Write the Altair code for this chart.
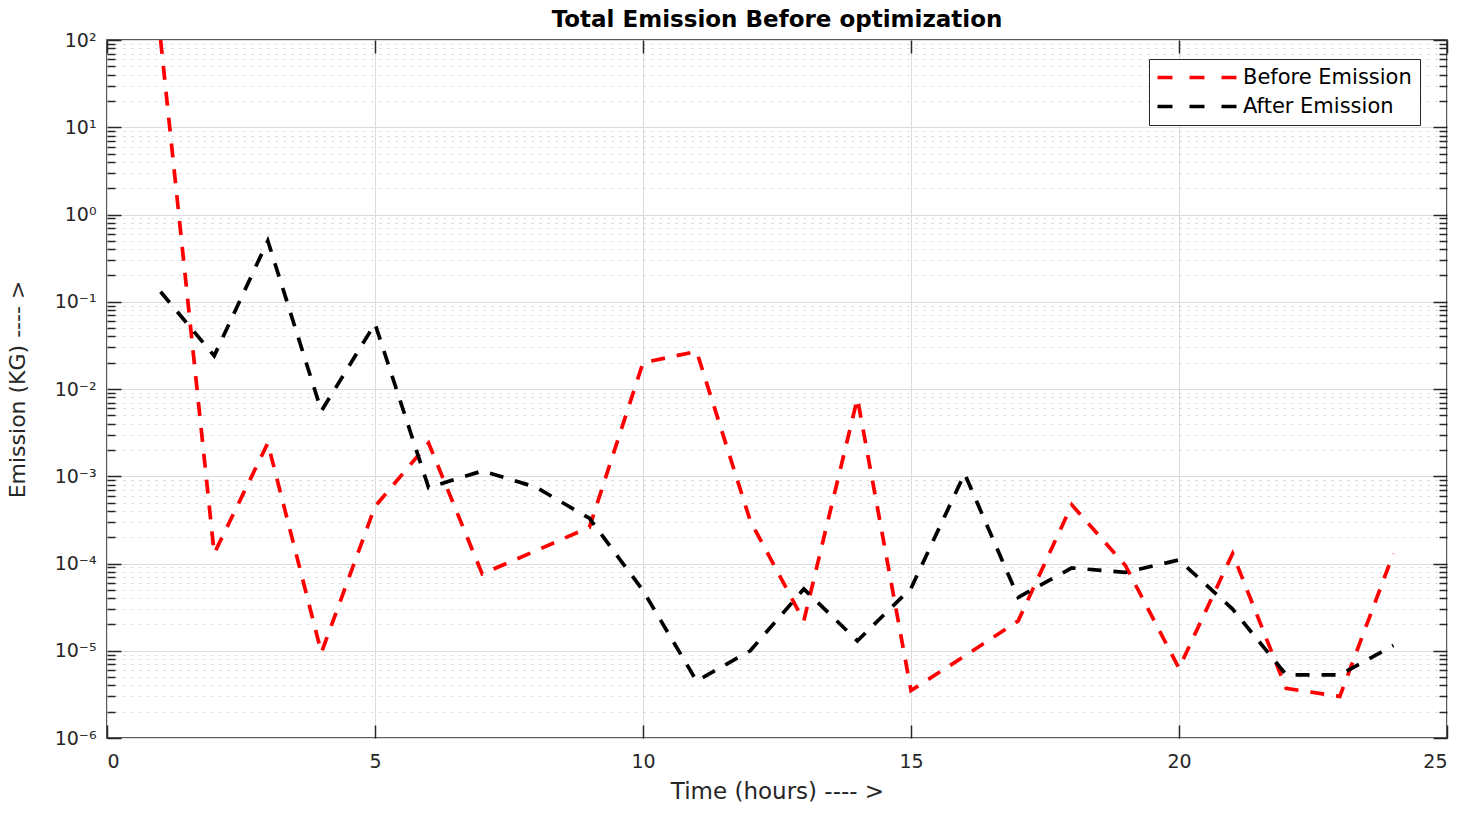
import altair as alt
import pandas as pd

# ---- data ----
hours = list(range(1, 25))
before_emission = [100, 1.3e-4, 2.4e-3, 9.5e-6, 4.5e-4, 2.4e-3, 7.6e-5, 1.4e-4,
                   2.6e-4, 0.020, 0.027, 3.1e-4, 2.2e-5, 7.8e-3, 3.5e-6, 8.7e-6,
                   2.2e-5, 4.7e-4, 9.5e-5, 6.3e-6, 1.3e-4, 3.7e-6, 3.0e-6, 1.3e-4]
after_emission = [0.13, 0.024, 0.50, 5.6e-3, 0.056, 7.4e-4, 1.15e-3, 7.5e-4,
                  3.3e-4, 4.9e-5, 4.5e-6, 1.0e-5, 5.1e-5, 1.3e-5, 5.2e-5, 1.07e-3,
                  4.1e-5, 8.9e-5, 7.9e-5, 1.1e-4, 3.0e-5, 5.3e-6, 5.3e-6, 1.15e-5]
series_names = ["Before Emission", "After Emission"]
series_colors = ["#ff0000", "#000000"]

x_ticks = [0, 5, 10, 15, 20, 25]
y_exponents = [-6, -5, -4, -3, -2, -1, 0, 1, 2]
y_tick_labels = ["10⁻⁶", "10⁻⁵", "10⁻⁴", "10⁻³", "10⁻²", "10⁻¹", "10⁰", "10¹", "10²"]
y_major = [10.0 ** e for e in y_exponents]
y_minor = [m * 10.0 ** e for e in y_exponents[:-1] for m in range(2, 10)]

df = pd.DataFrame({
    "hour": hours * 2,
    "value": before_emission + after_emission,
    "series": [series_names[0]] * len(hours) + [series_names[1]] * len(hours),
})

W, H = 1340, 698
FONT = "DejaVu Sans"
DARK = "#262626"

label_expr = ""
for e, lab in zip(y_exponents, y_tick_labels):
    label_expr += f"round(log(datum.value)/LN10) == {e} ? '{lab}' : "
label_expr += "''"

xscale = alt.Scale(domain=[0, 25], nice=False, zero=False)
yscale = alt.Scale(type="log", domain=[1e-6, 1e2], nice=False)

base = alt.Chart(df)


def tick_axis(orient, values, size, offset):
    return alt.Axis(orient=orient, values=values, tickSize=size, offset=offset,
                    labels=False, domain=False, grid=False, ticks=True,
                    tickColor=DARK, tickWidth=1.5, title=None)


# minor dotted grid
minor_grid = base.mark_line(opacity=0).encode(
    x=alt.X("hour:Q", scale=xscale, axis=None),
    y=alt.Y("value:Q", scale=yscale,
            axis=alt.Axis(orient="left", values=y_minor, grid=True, gridColor="#d2d2d2",
                          gridDash=[2, 6], gridWidth=1, labels=False, ticks=False,
                          domain=False, title=None)),
    detail="series:N",
)

# main line layer with labels, titles and major grid
lines = base.mark_line(strokeDash=[14, 12], strokeWidth=3.7, clip=True).encode(
    x=alt.X("hour:Q", scale=xscale,
            axis=alt.Axis(orient="bottom", values=x_ticks, grid=True, gridColor="#dcdcdc",
                          gridWidth=1, ticks=False, domain=False, labelFontSize=19,
                          labelColor=DARK, labelFont=FONT, labelPadding=14,
                          title="Time (hours) ---- >", titleFontSize=23,
                          titleFont=FONT, titleColor=DARK, titleFontWeight="normal",
                          titlePadding=9)),
    y=alt.Y("value:Q", scale=yscale,
            axis=alt.Axis(orient="left", values=y_major, grid=True, gridColor="#dcdcdc",
                          gridWidth=1, ticks=False, domain=False, labelFontSize=19,
                          labelColor=DARK, labelFont=FONT, labelPadding=11,
                          labelExpr=label_expr,
                          title="Emission (KG) ---- >", titleFontSize=22,
                          titleFont=FONT, titleColor=DARK, titleFontWeight="normal",
                          titlePadding=25)),
    color=alt.Color("series:N",
                    scale=alt.Scale(domain=series_names, range=series_colors),
                    sort=series_names,
                    legend=alt.Legend(title=None, orient="none", legendX=1042, legendY=19,
                                      symbolType="M-2,0H14", symbolSize=100,
                                      symbolDash=[15, 17], symbolStrokeWidth=3.7,
                                      symbolFillColor="transparent",
                                      labelFontSize=21, labelFont=FONT, labelColor="#000000",
                                      labelOffset=65, labelLimit=400, padding=8,
                                      rowPadding=7, strokeColor=DARK, fillColor="#ffffff",
                                      cornerRadius=0)),
)

ticks_a = base.mark_line(opacity=0).encode(
    x=alt.X("hour:Q", scale=xscale, axis=tick_axis("top", x_ticks, 13, -H)),
    y=alt.Y("value:Q", scale=yscale, axis=tick_axis("right", y_major, 14, -W)),
    detail="series:N",
)
ticks_b = base.mark_line(opacity=0).encode(
    x=alt.X("hour:Q", scale=xscale, axis=tick_axis("bottom", x_ticks, 13, -H)),
    y=alt.Y("value:Q", scale=yscale, axis=tick_axis("right", y_minor, 8, -W)),
    detail="series:N",
)
ticks_c = base.mark_line(opacity=0).encode(
    x=alt.X("hour:Q", scale=xscale, axis=None),
    y=alt.Y("value:Q", scale=yscale, axis=tick_axis("left", y_major, 14, -W)),
    detail="series:N",
)
ticks_d = base.mark_line(opacity=0).encode(
    x=alt.X("hour:Q", scale=xscale, axis=None),
    y=alt.Y("value:Q", scale=yscale, axis=tick_axis("left", y_minor, 8, -W)),
    detail="series:N",
)

chart = alt.layer(minor_grid, lines, ticks_a, ticks_b, ticks_c, ticks_d).resolve_axis(
    x="independent", y="independent"
).properties(
    width=W, height=H,
    title=alt.TitleParams("Total Emission Before optimization", fontSize=23,
                          fontWeight="bold", font=FONT, color="#000000",
                          anchor="middle", offset=7, dy=8, frame="group"),
    autosize=alt.AutoSizeParams(type="none"),
    padding={"left": 107, "top": 40, "right": 19, "bottom": 76},
    background="#ffffff",
).configure_view(stroke=DARK, strokeWidth=1.5)

chart.save("out.html", embed_options={"renderer": "svg", "actions": False})
